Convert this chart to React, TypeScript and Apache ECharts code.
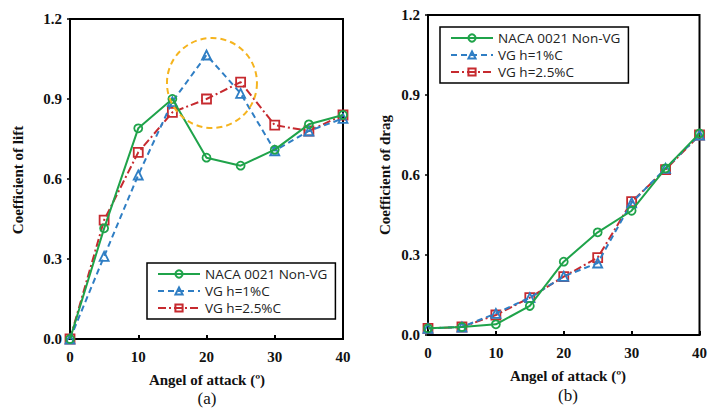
import React, { useEffect, useRef } from "react";
import * as echarts from "echarts";

const angles = [0, 5, 10, 15, 20, 25, 30, 35, 40];
const seriesNames = ["NACA 0021 Non-VG", "VG h=1%C", "VG h=2.5%C"];
const liftNaca = [0, 0.415, 0.79, 0.9, 0.68, 0.65, 0.71, 0.805, 0.84];
const liftVg1 = [0, 0.31, 0.615, 0.89, 1.065, 0.921, 0.706, 0.78, 0.827];
const liftVg25 = [0, 0.446, 0.7, 0.85, 0.9, 0.963, 0.802, 0.78, 0.84];
const dragNaca = [0.025, 0.03, 0.04, 0.109, 0.275, 0.385, 0.466, 0.625, 0.756];
const dragVg1 = [0.025, 0.03, 0.081, 0.14, 0.22, 0.27, 0.496, 0.625, 0.75];
const dragVg25 = [0.025, 0.03, 0.075, 0.14, 0.219, 0.29, 0.5, 0.62, 0.75];
const yTicks = [0, 0.3, 0.6, 0.9, 1.2];
const highlight = [20.8, 0.96];

const GREEN = "#1fa34a";
const BLUE = "#2f7ec4";
const RED = "#c62a2f";
const SERIF = "'Liberation Serif', 'Times New Roman', serif";
const SANS = "'Open Sans', 'Noto Sans', sans-serif";

const pair = (ys: number[]) => angles.map((a, i) => [a, ys[i]]);

function mkSeries(idx: number, data: number[][], k: number) {
  const cfg = [
    { color: GREEN, symbol: "circle", type: "solid" as any, size: 8 },
    { color: BLUE, symbol: "triangle", type: [6, 4] as any, size: 9 },
    { color: RED, symbol: "rect", type: [8, 3, 2, 3] as any, size: 9 },
  ][k];
  return {
    name: seriesNames[k],
    type: "line",
    xAxisIndex: idx,
    yAxisIndex: idx,
    data,
    symbol: cfg.symbol,
    symbolSize: cfg.size,
    showSymbol: true,
    itemStyle: { color: "rgba(255,255,255,0)", borderColor: cfg.color, borderWidth: 1.8 },
    lineStyle: { color: cfg.color, width: 2, type: cfg.type },
    color: cfg.color,
    z: 3 - k + 2,
  };
}

export default function App() {
  const ref = useRef<HTMLDivElement>(null);
  useEffect(() => {
    if (!ref.current) return;
    const chart = echarts.init(ref.current, undefined, { renderer: "svg" });
    const xAxis = (gridIndex: number) => ({
      type: "value",
      gridIndex,
      min: 0,
      max: 40,
      interval: 10,
      splitLine: { show: false },
      axisLine: { show: true, onZero: false, lineStyle: { color: "#000", width: 2 } },
      axisTick: { show: true, inside: true, length: 4, lineStyle: { color: "#000", width: 2 } },
      axisLabel: { color: "#111", fontFamily: SERIF, fontWeight: "bold", fontSize: 15, margin: 10 },
    });
    const yAxis = (gridIndex: number) => ({
      type: "value",
      gridIndex,
      min: 0,
      max: 1.2,
      interval: 0.3,
      splitLine: { show: false },
      axisLine: { show: true, onZero: false, lineStyle: { color: "#000", width: 2 } },
      axisTick: { show: true, length: 3, lineStyle: { color: "#000", width: 1.5 } },
      axisLabel: {
        color: "#111",
        fontFamily: SERIF,
        fontWeight: "bold",
        fontSize: 15,
        margin: 8,
        formatter: (v: number) => (yTicks.includes(Math.round(v * 10) / 10) ? v.toFixed(1) : ""),
      },
    });
    const legend = (left: number, top: number, width: number) => ({
      data: seriesNames,
      orient: "vertical",
      left,
      top,
      width,
      itemWidth: 42,
      itemHeight: 9,
      itemGap: 3,
      padding: [4, 8, 4, 10],
      borderColor: "#000",
      borderWidth: 1.5,
      backgroundColor: "#fff",
      selectedMode: false,
      textStyle: { fontFamily: SANS, fontSize: 13.5, color: "#222" },
    });
    chart.setOption({
      animation: false,
      backgroundColor: "#fff",
      grid: [
        { left: 70, top: 19, width: 273, height: 320, show: true, borderColor: "#000", borderWidth: 2, containLabel: false },
        { left: 428, top: 15, width: 277, height: 320, show: true, borderColor: "#000", borderWidth: 2, containLabel: false },
      ],
      xAxis: [xAxis(0), xAxis(1)],
      yAxis: [yAxis(0), yAxis(1)],
      legend: [legend(147, 263, 196), legend(440, 27, 189)],
      series: [
        mkSeries(0, pair(liftNaca), 0),
        mkSeries(0, pair(liftVg1), 1),
        mkSeries(0, pair(liftVg25), 2),
        mkSeries(1, pair(dragNaca), 0),
        mkSeries(1, pair(dragVg1), 1),
        mkSeries(1, pair(dragVg25), 2),
      ],
      graphic: [
        { type: "text", x: 207, y: 380, style: { text: "Angel of attack (º)", font: `bold 15px ${SERIF}`, fill: "#111", align: "center", verticalAlign: "middle" } },
        { type: "text", x: 568, y: 376, style: { text: "Angel of attack (º)", font: `bold 15px ${SERIF}`, fill: "#111", align: "center", verticalAlign: "middle" } },
        { type: "text", x: 207, y: 398, style: { text: "(a)", font: `17px ${SERIF}`, fill: "#111", align: "center", verticalAlign: "middle" } },
        { type: "text", x: 568, y: 395, style: { text: "(b)", font: `17px ${SERIF}`, fill: "#111", align: "center", verticalAlign: "middle" } },
        { type: "text", x: 18, y: 180, rotation: Math.PI / 2, style: { text: "Coefficient of lift", font: `bold 15px ${SERIF}`, fill: "#111", align: "center", verticalAlign: "middle" } },
        { type: "text", x: 385, y: 175, rotation: Math.PI / 2, style: { text: "Coefficient of drag", font: `bold 15px ${SERIF}`, fill: "#111", align: "center", verticalAlign: "middle" } },
      ],
    });
    const c = chart.convertToPixel({ gridIndex: 0 }, highlight) as number[];
    chart.setOption({
      graphic: [
        { type: "circle", id: "hl", shape: { cx: c[0], cy: c[1], r: 45 }, style: { fill: "none", stroke: "#f5b41f", lineWidth: 2, lineDash: [6, 4] }, z: 10 },
      ],
    });
    return () => chart.dispose();
  }, []);
  return <div ref={ref} style={{ width: 710, height: 410, position: "absolute", left: 0, top: 0 }} />;
}
